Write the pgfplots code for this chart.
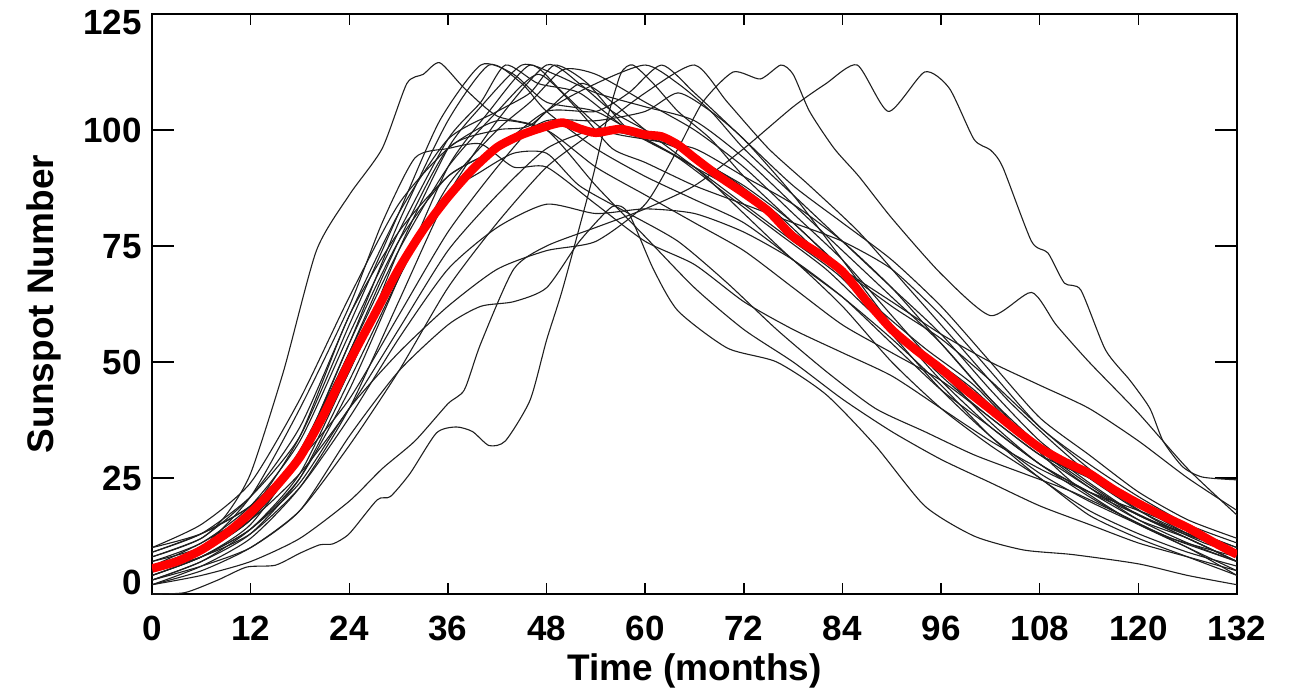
\documentclass[border=0pt]{standalone}
\usepackage{fontspec}
\setmainfont{Liberation Sans}
\usepackage{pgfplots}
\pgfplotsset{compat=1.18}
\pgfplotsset{blk/.style={black!88, line width=0.55pt, smooth, tension=0.4, line join=round}}
\begin{document}
\begin{tikzpicture}
\path[use as bounding box] (-76pt,-49pt) rectangle (573.5pt,297pt);
\begin{axis}[
  at={(0pt,0pt)}, anchor=south west,
  scale only axis, width=542.5pt, height=290pt,
  xmin=0, xmax=132, ymin=0, ymax=125,
  xtick={0,12,...,132}, ytick={0,25,50,75,100,125},
  yticklabels={{\raisebox{6.3pt}{0}},25,50,75,100,{\raisebox{-4.2pt}{125}}},
  tick align=inside,
  minor tick num=0,
  axis line style={line width=0.75pt},
  every tick/.style={black, line width=0.75pt},
  xtick style={/pgfplots/major tick length=5.5pt},
  ytick style={/pgfplots/major tick length=11pt},
  tick label style={font=\bfseries\fontsize{17.5pt}{20pt}\selectfont},
  /pgf/number format/assume math mode=true,
  xticklabel style={anchor=base, inner sep=0pt, yshift=-23pt},
  yticklabel style={anchor=base east, inner sep=0pt, xshift=-5pt, yshift=-6.3pt},
  xlabel={Time (months)}, ylabel={Sunspot Number},
  every axis x label/.style={at={(axis description cs:0.5,-0.1483)}, anchor=base, inner sep=0pt, font=\bfseries\fontsize{18.5pt}{22pt}\selectfont},
  every axis y label/.style={at={(axis description cs:-0.0912,0.5)}, rotate=90, anchor=base, inner sep=0pt, font=\bfseries\fontsize{18.5pt}{22pt}\selectfont},
]
% C1
\addplot[blk] coordinates {(0,8)(6,12)(9,17)(12,26)(16,48)(20,74)(24,86)(28,96)(31,110)(33,112)(35,114.5)(38,109)(42,103)(48,100)(54,88)(60,77)(66,66)(72,57)(78,50)(84,42)(90,35)(96,29)(102,24)(108,19)(114,15)(120,11)(126,8)(132,5)};
% C2
\addplot[blk] coordinates {(0,6)(6,10)(12,21)(18,40)(24,62)(28,80)(32,94)(36,96)(40,97)(44,92)(48,92)(54,84)(60,76)(66,71)(72,63)(78,57)(84,52)(90,47)(96,40)(102,33)(108,27)(114,22)(120,18)(126,14)(132,10)};
% C3
\addplot[blk] coordinates {(0,9)(6,13)(12,21)(18,34)(24,58)(30,82)(35,102)(40,114)(44,112)(48,106)(54,104)(60,98)(66,92)(72,82)(78,72)(84,64)(90,55)(96,45)(102,34)(108,25)(114,18)(120,13)(126,9)(132,6)};
% C4
\addplot[blk] coordinates {(0,5)(6,9)(12,16)(18,30)(24,54)(30,80)(36,102)(41,114)(45,110)(48,104)(54,96)(60,90)(66,85)(72,80)(78,72)(84,62)(90,50)(96,40)(102,32)(108,25)(114,17)(120,12)(126,8)(132,4)};
% C5
\addplot[blk] coordinates {(0,7)(6,11)(12,19)(18,33)(24,56)(30,78)(36,98)(40,106)(43,114)(47,110)(52,108)(58,100)(64,96)(70,90)(76,82)(82,72)(88,62)(94,53)(100,45)(106,34)(112,24)(118,17)(124,12)(132,7)};
% C6
\addplot[blk] coordinates {(0,3)(6,7)(12,14)(18,26)(24,48)(30,70)(36,86)(40,91)(44,95)(48,95)(52,88)(58,82)(64,76)(70,67)(76,57)(82,48)(88,40)(94,35)(100,30)(106,26)(112,22)(118,17)(124,12)(132,8)};
% C7
\addplot[blk] coordinates {(0,10)(6,13)(12,19)(18,30)(24,48)(30,74)(36,96)(40,105)(45,114)(49,112)(54,108)(60,105)(66,102)(72,94)(78,84)(84,74)(90,64)(96,54)(102,42)(108,31)(114,23)(120,16)(126,11)(132,7)};
% C8
\addplot[blk] coordinates {(0,4)(6,8)(12,14)(18,25)(24,44)(30,68)(36,92)(41,104)(46,114)(50,108)(55,100)(60,98)(66,96)(72,90)(78,84)(84,76)(90,66)(96,54)(102,42)(108,32)(114,24)(120,17)(126,13)(132,9)};
% C9
\addplot[blk] coordinates {(0,6)(6,10)(12,17)(18,31)(24,52)(30,74)(36,92)(42,104)(47,112)(52,104)(56,96)(60,93)(66,88)(72,84)(78,80)(84,76)(90,70)(96,60)(102,48)(108,36)(114,28)(120,21)(126,15)(132,11)};
% C10
\addplot[blk] coordinates {(0,2)(6,6)(12,12)(18,23)(24,40)(30,63)(36,86)(42,102)(48,114)(52,110)(56,104)(60,100)(66,94)(72,88)(78,80)(84,70)(90,62)(96,55)(102,46)(108,36)(114,27)(120,19)(126,13)(132,9)};
% C11
\addplot[blk] coordinates {(0,8)(6,12)(12,21)(18,36)(24,60)(30,82)(36,98)(42,104)(46,108)(49,114)(53,110)(58,100)(64,94)(70,86)(76,78)(82,70)(88,60)(94,52)(100,44)(106,34)(112,26)(118,19)(124,14)(132,9)};
% C12
\addplot[blk] coordinates {(0,3)(6,7)(12,13)(18,25)(24,46)(30,68)(36,88)(42,100)(46,106)(50,113)(54,112)(60,106)(66,100)(72,92)(78,82)(84,72)(90,60)(96,48)(102,37)(108,28)(114,22)(120,17)(126,12)(132,7)};
% C13
\addplot[blk] coordinates {(0,5)(6,9)(12,16)(18,29)(24,52)(30,76)(36,96)(42,100)(46,101)(52,110)(56,106)(60,100)(66,92)(72,84)(78,76)(84,68)(90,56)(96,44)(102,34)(108,26)(114,20)(120,15)(126,10)(132,4)};
% C14
\addplot[blk] coordinates {(0,7)(6,10)(12,16)(18,26)(24,40)(30,57)(36,74)(42,86)(48,96)(54,100)(60,98)(66,92)(72,86)(78,78)(84,70)(90,63)(96,56)(102,50)(108,45)(114,40)(120,33)(126,25)(132,18)};
% C15
\addplot[blk] coordinates {(0,3)(6,6)(12,10)(18,18)(24,34)(30,48)(36,58)(40,62)(44,63)(48,66)(52,76)(56,83.5)(58,82)(61,70)(64,61)(70,53)(76,50)(82,43)(88,32)(94,19)(100,12.5)(106,9.5)(112,8.5)(120,6.5)(126,4)(132,2)};
% C16
\addplot[blk] coordinates {(0,0)(4,0.3)(8,3)(11.5,5.8)(15,6.2)(18,8.8)(20.4,10.6)(22,10.8)(24,13)(27.4,20.3)(29,21)(31.4,26)(34.6,34.7)(37,36)(39,35)(41,32)(43,33)(46,41.8)(48,54.7)(50,66)(53.5,89)(55,100)(57,112)(58.5,114)(61,110)(64,104)(68,98)(72,90)(78,80)(84,70)(90,58)(96,47)(102,38)(108,30)(114,23)(120,17)(126,12)(132,7)};
% C17
\addplot[blk] coordinates {(0,9)(6,13)(12,19)(18,29)(24,42)(30,60)(36,78)(42,92)(48,104)(54,110)(60,114)(64,110)(68,104)(72,96)(78,86)(84,76)(90,66)(96,56)(102,44)(108,33)(114,25)(120,18)(126,13)(132,9)};
% C18
\addplot[blk] coordinates {(0,4)(6,8)(12,15)(18,30)(24,54)(30,76)(36,90)(42,96)(48,104)(54,104)(58,108)(62,114)(66,108)(72,98)(78,88)(84,80)(90,72)(96,62)(102,50)(108,38)(114,30)(120,22)(126,16)(132,12)};
% C19
\addplot[blk] coordinates {(0,6)(6,11)(12,18)(18,34)(24,60)(30,78)(36,90)(42,96)(48,102)(54,102)(60,104)(64,108)(68,104)(72,98)(78,86)(84,72)(90,58)(96,46)(102,36)(108,28)(114,21)(120,15)(126,10)(132,5)};
% C20
\addplot[blk] coordinates {(0,2)(6,5)(12,10)(18,18)(24,32)(30,48)(36,66)(42,80)(48,92)(54,100)(60,108)(66,114)(70,106)(75,96)(80,88)(86,78)(92,66)(98,54)(104,42)(110,32)(116,23)(122,16)(128,11)(132,9)};
% C21
\addplot[blk] coordinates {(0,5)(6,8)(12,13)(18,23)(24,38)(30,55)(36,70)(42,79)(48,84)(54,82)(60,83)(66,82)(72,78)(78,72)(84,64)(90,54)(96,44)(102,36)(108,28)(114,22)(120,16)(126,12)(132,7)};
% C22
\addplot[blk] coordinates {(0,4)(6,8)(12,14)(18,24)(24,40)(30,52)(36,62)(42,70)(48,74)(54,76)(60,84)(64,96)(67,106)(70.7,112.5)(74,111)(76.5,114)(78,112)(80,104)(83,96)(86,90)(90,81)(96,69)(102,60)(107,65)(110,58)(114,50)(120,39)(126,27)(132,17)};
% C23
\addplot[blk] coordinates {(0,2)(6,4)(12,7)(18,12)(24,20)(28,27)(32,33)(36,41)(38,44)(40,54)(44,70)(48,75)(54,79)(60,83)(66,88)(72,96)(78,105)(82,110)(85.8,114)(89.6,104)(94,112.5)(97,109)(100,98)(102,95.7)(103.5,92)(107,76)(109,73.5)(111,67)(113,65.5)(116,52.6)(119,46)(121.4,40)(123,33)(125.4,27.4)(127.8,25.2)(132,24.6)};
% C24
\addplot[blk] coordinates {(0,10)(6,15)(12,24)(18,42)(24,64)(30,84)(36,96)(42,102)(48,100)(54,92)(60,86)(66,80)(72,74)(78,66)(84,58)(90,52)(96,46)(102,38)(108,30)(114,25)(120,19)(126,14)(132,10)};
% mean
\addplot[red, line width=4.3pt, smooth, tension=0.4, line join=round] coordinates {(0,5.5)(3,7)(6,9.5)(9,13)(12,17.5)(15,23)(18,29.5)(21,39)(24,50)(27,60)(30,70)(33,78.5)(36,85.5)(39,91.5)(42,96.3)(45,99)(48,100.8)(50,101.6)(52,100.3)(54,99.4)(57,100.2)(60,99)(62,98.6)(64,96.8)(66,94)(69,90)(72,86.4)(75,82.5)(78,77)(81,73.5)(84,69.5)(87,63)(90,57)(93,52.5)(96,48.5)(99,44)(102,39.8)(105,35.5)(108,31.5)(111,28.5)(114,26)(117,22.5)(120,19.5)(123,16.8)(126,14.3)(129,11.3)(132,8.5)};
\end{axis}
\end{tikzpicture}
\end{document}
